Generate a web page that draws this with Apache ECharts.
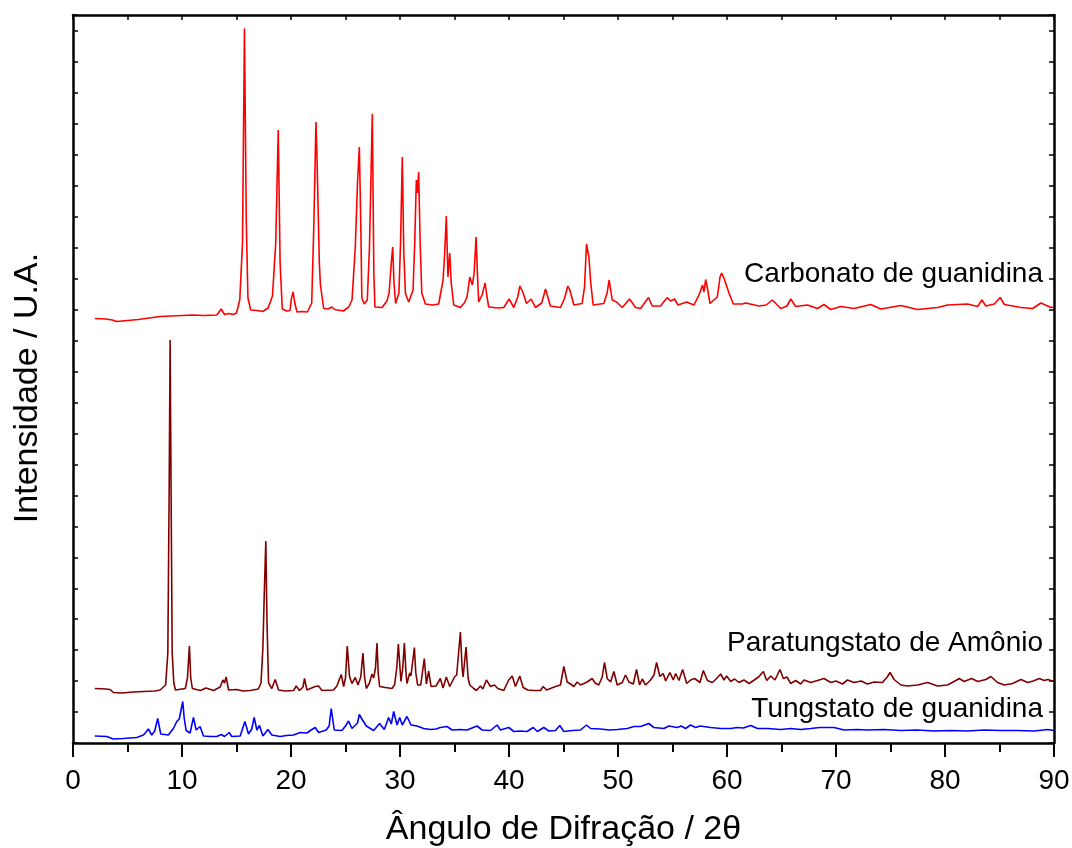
<!DOCTYPE html>
<html>
<head>
<meta charset="utf-8">
<script src="https://cdn.jsdelivr.net/npm/echarts@6/dist/echarts.min.js"></script>
<style>
html,body{margin:0;padding:0;background:#fff;}
#chart{width:1072px;height:848px;}
</style>
</head>
<body>
<div id="chart"></div>
<script>
// x tick labels (2θ) and y extent (arbitrary intensity units, stacked patterns)
const xTicks = [0, 10, 20, 30, 40, 50, 60, 70, 80, 90];
const seriesNames = ['Carbonato de guanidina', 'Paratungstato de Amônio', 'Tungstato de guanidina'];

// [2θ, intensity]
const carbonato = [[2.0,424.5],[3.0,424],[3.6,423],[4.0,421.5],[5.0,422.5],[6.0,423.5],[7.0,425],[8.0,426.5],[9.0,427],[10.0,427.5],[11.0,428],[12.0,427.5],[13.2,428],[13.6,434],[13.9,428.5],[14.3,429.5],[14.7,428.5],[15.0,430],[15.3,443],[15.55,500],[15.73,714.5],[15.9,520],[16.05,445],[16.3,433],[16.9,432.5],[17.4,431.5],[17.9,435],[18.3,447],[18.6,500],[18.83,613],[19.0,480],[19.2,434],[19.6,432],[19.9,432.5],[20.05,445],[20.2,451],[20.35,440],[20.55,431],[21.0,431.5],[21.5,431],[21.9,440],[22.1,520],[22.29,621],[22.38,588],[22.45,590],[22.6,480],[22.7,458],[23.0,434.5],[23.4,434],[23.75,436],[24.0,433.5],[24.8,432],[25.3,436],[25.6,443],[25.9,496],[26.1,560],[26.27,596],[26.4,520],[26.5,445],[26.72,439],[27.0,443],[27.2,496],[27.46,629],[27.6,470],[27.7,436],[28.35,435.5],[28.8,442],[29.0,450],[29.2,480],[29.33,496],[29.45,460],[29.6,439.5],[29.9,450],[30.05,500],[30.21,586],[30.35,490],[30.5,449.5],[30.8,441],[31.2,453],[31.35,500],[31.5,563],[31.6,550],[31.71,571],[31.85,500],[32.0,450],[32.33,439],[33.0,438],[33.55,439],[33.95,463],[34.1,490],[34.25,527],[34.4,466],[34.56,490],[34.7,460],[34.93,438],[35.54,435.5],[35.9,440],[36.15,446],[36.4,466],[36.64,458],[36.8,470],[36.98,506],[37.1,470],[37.22,441],[37.53,448],[37.81,460],[38.0,445],[38.14,436],[39.0,435],[39.52,435.5],[40.01,444],[40.44,435.5],[40.8,446],[41.0,457],[41.14,458],[41.3,450],[41.6,439.5],[42.03,444],[42.43,435.5],[43.0,440],[43.35,454],[43.8,437],[44.72,435.5],[45.09,444.5],[45.4,457],[45.58,453],[45.95,438],[46.71,439.5],[46.93,456],[47.11,499],[47.33,486],[47.5,460],[47.72,438],[48.7,439.5],[49.0,450],[49.19,463],[49.47,443],[49.87,441],[50.39,435.5],[51.06,444],[51.61,435.5],[52.07,434.5],[52.8,445.5],[53.14,437],[53.9,437],[54.52,445.5],[54.82,442],[55.19,444],[55.5,438],[56.3,441],[56.97,438],[57.43,448],[57.76,458],[57.89,451],[58.04,463.5],[58.2,455],[58.44,439.5],[59.11,446],[59.36,466],[59.51,470],[59.72,465],[60.18,450],[60.58,439],[61.4,439],[61.71,440],[62.94,437],[63.6,438],[64.16,443],[64.93,434.5],[65.5,437],[65.85,444],[66.3,436.5],[67.38,438],[68.3,434.5],[68.9,438.5],[69.52,433.5],[70.44,436.5],[71.66,434.5],[73.19,438.5],[74.11,434],[75.95,437.5],[77.48,433.5],[79.32,435.5],[80.23,438],[82.07,439],[82.99,436.5],[83.39,443],[83.75,437],[84.52,439],[85.07,445.5],[85.44,438.5],[86.97,435.5],[88.04,434.5],[88.8,440],[89.72,435.5],[90.0,436]];

const paratungstato = [[2.0,54.5],[3.0,54],[3.4,53.5],[3.7,50.5],[4.5,50],[5.5,51],[6.5,51.5],[7.5,52],[8.0,53],[8.5,58],[8.7,90],[8.82,250],[8.91,403],[9.0,250],[9.1,90],[9.25,60],[9.4,53],[10.3,54.5],[10.5,65],[10.68,97],[10.8,65],[10.95,54.5],[11.7,52.5],[12.2,55],[12.9,52.5],[13.5,56],[13.75,63],[13.9,60],[14.05,66],[14.27,53],[15.0,53.5],[15.6,52],[16.25,52.5],[17.0,54],[17.25,60],[17.42,95],[17.55,150],[17.69,202],[17.8,120],[17.94,60],[18.24,54.5],[18.55,63.5],[18.86,53],[19.5,52],[20.23,52.5],[20.48,57],[20.78,52.5],[21.1,56],[21.24,64.5],[21.46,53],[22.22,56.5],[22.53,57],[22.84,52.5],[23.9,53],[24.21,57],[24.45,64],[24.61,68.5],[24.83,56.5],[25.0,65],[25.16,97],[25.37,66.5],[25.59,59.5],[25.9,65.5],[26.14,58],[26.4,66],[26.6,90],[26.75,66],[26.91,54.5],[27.2,60],[27.43,69],[27.58,65],[27.75,75],[27.89,100],[28.0,70],[28.13,56.5],[28.65,55.5],[29.27,54.5],[29.51,58.5],[29.7,75],[29.85,99],[30.0,75],[30.09,61.5],[30.25,75],[30.4,100],[30.55,70],[30.64,59.5],[30.89,70],[31.0,67],[31.15,80],[31.32,95.5],[31.45,70],[31.62,58],[31.9,58],[32.23,84.5],[32.42,59],[32.63,72],[32.85,56.5],[33.3,57],[33.7,64.5],[33.95,55],[34.25,66],[34.56,56.5],[35.0,66],[35.2,68],[35.54,111],[35.7,75],[35.79,66],[36.06,96],[36.25,65],[36.4,58],[36.76,54.5],[37.01,52.5],[37.38,57],[37.6,54],[37.93,63],[38.3,56.5],[38.66,58],[38.97,54.5],[39.52,52.5],[39.97,63],[40.29,67],[40.59,56.5],[40.99,67],[41.3,55.5],[41.72,53],[42.27,52.5],[42.89,52.5],[43.13,56.5],[43.44,53],[43.8,54.5],[44.26,56.5],[44.72,58],[45.03,76.5],[45.34,61],[45.64,59],[45.95,56.5],[46.26,61],[46.56,58],[47.17,61],[47.63,64.5],[47.9,60],[48.24,58],[48.55,66],[48.76,80.5],[49.01,64.5],[49.32,61],[49.62,71.5],[49.93,58],[50.39,60.5],[50.69,68],[51.0,61],[51.4,59],[51.7,73.5],[51.98,58],[52.23,64],[52.53,58],[52.99,63],[53.3,68],[53.54,80.5],[53.84,66.5],[54.15,69.5],[54.37,62],[54.76,70.5],[55.07,63],[55.29,69.5],[55.59,62.5],[55.93,73.5],[56.3,59.5],[56.66,63],[57.03,64.5],[57.52,60.5],[57.83,72.5],[58.2,62.5],[58.65,60.5],[59.0,64],[59.42,69],[59.72,63],[59.97,67],[60.34,61.5],[60.7,64],[61.1,60.5],[61.56,63],[62.02,59.5],[62.5,63],[62.9,66],[63.34,71.5],[63.64,62.5],[64.01,67],[64.4,63],[64.86,73.5],[65.17,64.5],[65.5,66],[65.85,59.5],[66.3,62.5],[66.76,59],[67.07,63],[67.68,60.5],[68.3,62.5],[68.9,64.5],[69.52,60.5],[70.0,62],[70.59,59],[71.05,63],[71.66,60.5],[72.3,62],[72.88,59],[73.5,61],[74.26,60.5],[74.7,66],[74.96,70.5],[75.33,63.5],[75.95,58],[76.56,57],[77.48,58],[78.4,60.5],[79.32,57],[80.23,58],[81.0,62.5],[81.3,64.5],[81.76,61.5],[82.44,64.5],[83.0,61.5],[83.75,63.5],[84.21,66.5],[84.82,60.5],[85.44,58],[86.2,59.5],[86.97,63.5],[87.58,60.5],[88.1,62],[88.65,64.5],[89.11,62.5],[89.42,63.5],[90.0,61.5]];

const tungstato = [[2.0,7],[3.1,6.5],[3.7,4],[4.6,4.5],[5.85,5.5],[6.46,8],[6.7,11],[6.92,14],[7.22,8],[7.5,12],[7.77,24.5],[8.05,9],[8.75,8],[9.21,14.5],[9.52,21.5],[9.75,24],[9.9,22],[10.07,41.5],[10.2,25],[10.38,12.5],[10.74,10],[11.05,25.5],[11.3,13],[11.66,16.5],[11.97,7],[12.6,6.5],[13.2,6.5],[13.6,8.5],[13.9,6.5],[14.33,10.5],[14.57,6.5],[15.34,7],[15.77,21.5],[16.1,9],[16.4,14],[16.62,25.5],[16.87,13],[17.11,17.5],[17.42,7],[17.88,13.5],[18.24,8],[19.01,6.5],[19.6,7.5],[20.23,8],[20.85,10.5],[21.46,10],[21.77,12.5],[22.22,15.5],[22.53,10.5],[23.23,13],[23.5,17],[23.69,34.5],[23.97,13],[24.67,12.5],[25.0,17],[25.28,22],[25.59,14.5],[25.87,17.5],[26.1,20],[26.27,28.5],[26.5,24],[26.91,17],[27.58,12.5],[28.13,19.5],[28.56,13.5],[28.96,25.5],[29.2,19],[29.42,31.5],[29.73,18],[29.97,25.5],[30.21,18],[30.64,26.5],[31.01,18],[31.56,17],[32.17,14.5],[32.79,13.5],[33.3,14],[33.7,15.5],[34.32,16.5],[34.78,13],[35.54,13.5],[36.15,13],[37.07,17],[37.53,13],[38.3,12.5],[38.91,18],[39.21,13],[39.98,15.5],[40.44,11.5],[41.0,12],[41.66,11.5],[42.22,15.5],[42.6,11.5],[43.19,15.5],[43.65,12],[44.26,12.5],[44.66,17.5],[45.03,11.5],[45.8,12.5],[46.56,13],[47.11,18],[47.48,14.5],[48.4,14],[49.2,13],[49.93,13.5],[50.85,14.5],[51.46,16.5],[52.07,16.5],[52.83,19.5],[53.29,15.5],[54.21,14.5],[54.67,17],[55.44,15.5],[55.8,17],[56.2,14.5],[56.66,18],[57.12,15.5],[57.52,17],[58.5,15.5],[59.42,14.5],[60.34,14.5],[60.95,15.5],[61.5,15],[62.17,17.5],[62.79,14.5],[63.71,14.5],[64.93,13.5],[65.85,14.5],[66.76,13.5],[67.68,14.5],[68.5,15.5],[69.82,15.5],[70.74,13],[71.97,13.5],[72.88,13],[74.41,13.5],[75.95,12.5],[77.48,13],[79.01,12],[80.54,12.5],[82.07,12],[83.6,13],[85.13,12.5],[86.66,12.5],[88.19,12],[89.42,13.5],[90.0,12.5]];

const FONT = "'Liberation Sans', Arial, Helvetica, sans-serif";
const chart = echarts.init(document.getElementById('chart'), null, {renderer: 'canvas'});

const frameLine = {show: true, onZero: false, lineStyle: {color: '#000', width: 2.5}};
const innerTick = {show: true, inside: true, length: 5, lineStyle: {color: '#000', width: 1.5}};
const yMax = 728, yStep = 30.95;

const option = {
  animation: false,
  backgroundColor: '#fff',
  grid: {left: 73, right: 18, top: 15, bottom: 105, containLabel: false, outerBoundsMode: 'none'},
  xAxis: [
    {
      type: 'value', position: 'bottom', min: xTicks[0], max: xTicks[xTicks.length - 1], interval: 10,
      axisLine: frameLine,
      axisTick: {show: true, inside: false, length: 14, lineStyle: {color: '#000', width: 2}},
      minorTick: {show: true, splitNumber: 2, length: 9, lineStyle: {color: '#000', width: 2}},
      axisLabel: {show: true, margin: 24, color: '#000', fontSize: 28, fontFamily: FONT},
      splitLine: {show: false},
      name: 'Ângulo de Difração / 2θ', nameLocation: 'middle', nameGap: 70,
      nameTextStyle: {color: '#000', fontSize: 34, fontFamily: FONT}
    },
    {
      type: 'value', position: 'top', min: 0, max: 90, interval: 5,
      axisLine: frameLine, axisTick: innerTick,
      axisLabel: {show: false}, splitLine: {show: false}
    }
  ],
  yAxis: [
    {
      type: 'value', position: 'left', min: 0, max: yMax, interval: yStep,
      axisLine: frameLine, axisTick: innerTick,
      axisLabel: {show: false}, splitLine: {show: false},
      name: 'Intensidade / U.A.', nameLocation: 'middle', nameGap: 28,
      nameTextStyle: {color: '#000', fontSize: 34, fontFamily: FONT, padding: [0, 18, 0, 0]}
    },
    {
      type: 'value', position: 'right', min: 0, max: yMax, interval: yStep,
      axisLine: frameLine, axisTick: innerTick,
      axisLabel: {show: false}, splitLine: {show: false}
    }
  ],
  series: [
    {name: seriesNames[0], type: 'line', data: carbonato, showSymbol: false, symbol: 'none',
     lineStyle: {color: '#ff0000', width: 1.6}, itemStyle: {color: '#ff0000'}, xAxisIndex: 0, yAxisIndex: 0},
    {name: seriesNames[1], type: 'line', data: paratungstato, showSymbol: false, symbol: 'none',
     lineStyle: {color: '#800000', width: 1.6}, itemStyle: {color: '#800000'}, xAxisIndex: 0, yAxisIndex: 0},
    {name: seriesNames[2], type: 'line', data: tungstato, showSymbol: false, symbol: 'none',
     lineStyle: {color: '#0000ff', width: 1.6}, itemStyle: {color: '#0000ff'}, xAxisIndex: 0, yAxisIndex: 0}
  ],
  graphic: [
    {type: 'text', x: 1043, y: 274.5, style: {text: seriesNames[0], font: '28px ' + FONT, fill: '#000', align: 'right', verticalAlign: 'middle', textAlign: 'right', textVerticalAlign: 'middle'}},
    {type: 'text', x: 1043, y: 643, style: {text: seriesNames[1], font: '28px ' + FONT, fill: '#000', align: 'right', verticalAlign: 'middle', textAlign: 'right', textVerticalAlign: 'middle'}},
    {type: 'text', x: 1043, y: 709, style: {text: seriesNames[2], font: '28px ' + FONT, fill: '#000', align: 'right', verticalAlign: 'middle', textAlign: 'right', textVerticalAlign: 'middle'}}
  ]
};
chart.setOption(option);
</script>
</body>
</html>
